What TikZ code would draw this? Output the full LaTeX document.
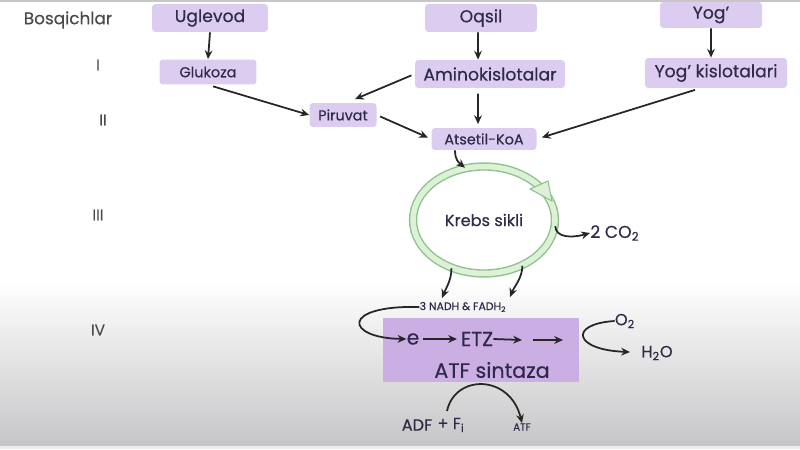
\documentclass[tikz,border=0pt]{standalone}
\usepackage{fontspec}
\setmainfont{Poppins}[UprightFeatures={FakeBold=0.35}]
\usetikzlibrary{arrows.meta,shapes.geometric}

\definecolor{boxfill}{HTML}{DCCCF0}
\definecolor{etzfill}{HTML}{CBAEE4}
\definecolor{labeltext}{HTML}{2E2A48}
\definecolor{numtext}{HTML}{4A4A4A}
\definecolor{arrowc}{HTML}{262626}
\definecolor{krebsdark}{HTML}{8DC28B}
\definecolor{krebslight}{HTML}{DDF1D6}
\definecolor{bggray}{HTML}{C6C6C8}

\tikzset{
  stagebox/.style={fill=boxfill, rounded corners=2pt, text=labeltext, inner sep=0pt,
    font=\fontsize{9.8}{11}\selectfont},
  smallbox/.style={stagebox, font=\fontsize{8.2}{10}\selectfont},
  stagenum/.style={text=numtext, font=\fontsize{8.6}{10}\selectfont},
  plain/.style={text=labeltext, inner sep=0pt},
  flow/.style={draw=arrowc, line width=1pt, -{Stealth[length=5pt,width=4.4pt]}},
}

\begin{document}
\begin{tikzpicture}[x=0.02cm, y=-0.02cm]
  \useasboundingbox (0,0) rectangle (800,449);
  % background
  \fill[white] (0,0) rectangle (800,449);
  \shade[top color=white, bottom color=bggray] (0,280) rectangle (800,446);
  \fill[gray!15] (0,446) rectangle (800,449);
  \fill[gray!45] (0,0) rectangle (800,2);

  % stages
  \node[stagenum, font=\fontsize{9.6}{11}\selectfont] (bosq) at (68,20) {Bosqichlar};
  \node[stagenum] (s1) at (98,65) {I};
  \node[stagenum] (s2) at (103,120) {II};
  \node[stagenum] (s3) at (98,215) {III};
  \node[stagenum] (s4) at (98,330) {IV};

  % sources
  \node[stagebox, minimum width=2.32cm, minimum height=0.56cm] (uglevod) at (210,18) {Uglevod};
  \node[stagebox, minimum width=2.24cm, minimum height=0.56cm] (oqsil) at (481,18) {Oqsil};
  \node[stagebox, minimum width=2.04cm, minimum height=0.52cm] (yog) at (711,15) {Yog’};
  \node[smallbox, minimum width=1.94cm, minimum height=0.5cm] (glukoza) at (208,72) {Glukoza};
  \node[stagebox, minimum width=3.0cm, minimum height=0.56cm] (amino) at (490,74) {Aminokislotalar};
  \node[stagebox, minimum width=2.84cm, minimum height=0.6cm] (yogk) at (716,73) {Yog’ kislotalari};
  \node[smallbox, minimum width=1.34cm, minimum height=0.48cm] (piruvat) at (343,115) {Piruvat};
  \node[smallbox, minimum width=2.1cm, minimum height=0.44cm] (atsetil) at (484,139) {Atsetil-KoA};

  \draw[flow] (uglevod.south) -- (glukoza.north);
  \draw[flow] ([xshift=-0.06cm]oqsil.south) -- ([xshift=-0.24cm]amino.north);
  \draw[flow] (yog.south) -- ([xshift=-0.1cm]yogk.north);
  \draw[flow, shorten <=3pt] (glukoza.south) -- (piruvat.west);
  \draw[flow, shorten <=2pt] (amino.west) -- ([xshift=0.24cm, yshift=2pt]piruvat.north);
  \draw[flow, shorten <=3pt, shorten >=2pt] ([xshift=-0.24cm]amino.south) -- ([xshift=-0.12cm]atsetil.north);
  \draw[flow, shorten <=2pt, shorten >=2pt] (piruvat.east) -- (atsetil.west);
  \draw[flow, shorten <=3pt, shorten >=3pt] ([xshift=-0.32cm]yogk.south) -- (atsetil.east);

  % Krebs cycle
  \node[ellipse, minimum width=2.84cm, minimum height=2.14cm, draw=krebsdark, line width=0.8pt,
    double=krebslight, double distance=0.11cm, text=labeltext,
    font=\fontsize{9.2}{10}\selectfont] (krebs) at (484,220) {Krebs sikli};
  \filldraw[fill=krebslight, draw=krebsdark, line width=0.6pt]
    (530,189) -- (548,181) -- (552,201) -- cycle;
  \draw[flow] ([xshift=-0.58cm]atsetil.south) .. controls +(0,10) and +(-6,-5) .. (krebs.110);

  \node[plain, anchor=west, font=\fontsize{9.8}{11}\selectfont] (co2) at (590,233) {2 CO\textsubscript{2}};
  \draw[flow] (krebs.-5) .. controls (556,238) and (572,238) .. (co2.west);

  \node[plain, font=\fontsize{6.2}{7}\selectfont] (nadh) at (463,307) {3 NADH \& FADH\textsubscript{2}};
  \coordinate (nadhl) at (442,298);
  \coordinate (nadhr) at (510,297);
  \draw[flow] (krebs.-124) .. controls +(0,12) and +(4,-10) .. (nadhl);
  \draw[flow] (krebs.-50) .. controls +(0,12) and +(4,-10) .. (nadhr);

  % electron transport
  \node[fill=etzfill, minimum width=3.94cm, minimum height=1.3cm] (etz box) at (481,350) {};
  \node[plain, font=\fontsize{11.5}{13}\selectfont] (e) at (413,339) {e};
  \node[plain, font=\fontsize{11.5}{13}\selectfont] (etz) at (477,339) {ETZ};
  \node[plain, font=\fontsize{11.8}{13}\selectfont] (atf sint) at (492,370) {ATF sintaza};
  \coordinate (etz1) at (522,340);
  \coordinate (etz2) at (533,340);
  \coordinate (etz3) at (563,340);
  \draw[flow, shorten <=2pt, shorten >=2pt] (e.east) -- (etz.west);
  \draw[flow] (etz.east) -- (etz1);
  \draw[flow] (etz2) -- (etz3);
  \draw[flow] (nadh.west) .. controls (340,305) and (345,338) .. (e.west);

  \node[plain, font=\fontsize{9.2}{10}\selectfont] (o2) at (625,321) {O\textsubscript{2}};
  \node[plain, font=\fontsize{9.2}{10}\selectfont, anchor=west] (h2o) at (641,353) {H\textsubscript{2}O};
  \coordinate (h2ol) at (630,352);
  \draw[flow] (o2.west) .. controls (568,324) and (574,350) .. (h2ol);

  % ATF
  \node[plain, font=\fontsize{9.2}{10}\selectfont] (adf) at (417,425) {ADF};
  \node[plain, font=\fontsize{9.2}{10}\selectfont] (fi) at (451,425) {+ F\textsubscript{i}};
  \node[plain, font=\fontsize{5.8}{7}\selectfont] (atf) at (522,427) {ATF};
  \coordinate (adfs) at (447,411);
  \draw[flow] (adfs) .. controls (455,374) and (510,374) .. (atf.north);
\end{tikzpicture}
\end{document}
